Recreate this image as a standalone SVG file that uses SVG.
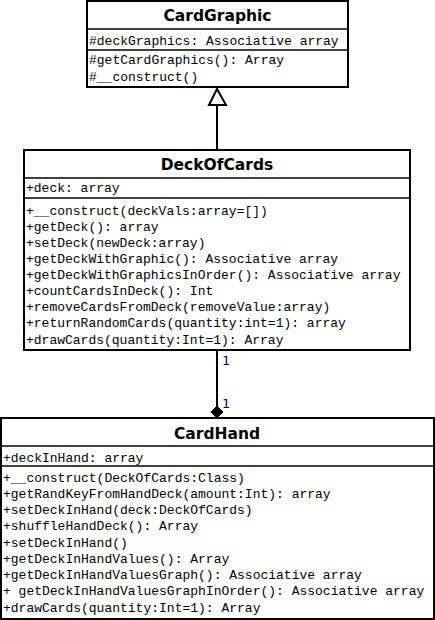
<svg xmlns="http://www.w3.org/2000/svg" width="435" height="620" viewBox="0 0 435 620">
<style>
.box{fill:#fff;stroke:#000;stroke-width:2}
.div{stroke:#000;stroke-width:1.5}
.title{font-family:"DejaVu Sans",Verdana,sans-serif;font-weight:bold;font-size:15.5px;text-anchor:middle;fill:#000}
.mem{font-family:"Liberation Mono","Courier New",monospace;font-size:13px;fill:#000}
.mult{font-family:"DejaVu Sans",Tahoma,sans-serif;font-size:13px;fill:#000066}
.edge{stroke:#000;stroke-width:2;fill:none}
</style>
<rect width="435" height="620" fill="#fff"/>
<g id="connectors">
<line class="edge" x1="217" y1="104" x2="217" y2="150"/>
<polygon points="217,89 209,105 226,105" fill="#fff" stroke="#000" stroke-width="2"/>
<line class="edge" x1="217" y1="350" x2="217" y2="408"/>
<polygon points="217,406 223,412 217,418 211,412" fill="#000" stroke="#000" stroke-width="1"/>
<text class="mult" x="222" y="365">1</text>
<text class="mult" x="222" y="408">1</text>
</g>
<g id="CardGraphic">
<rect class="box" x="87" y="1" width="261" height="86"/>
<line class="div" x1="87" y1="29" x2="348" y2="29"/>
<line class="div" x1="87" y1="50" x2="348" y2="50"/>
<text class="title" x="217.5" y="21">CardGraphic</text>
<text class="mem" x="89" y="45">#deckGraphics: Associative array</text>
<text class="mem" x="89" y="64">#getCardGraphics(): Array</text>
<text class="mem" x="89" y="81">#__construct()</text>
</g>
<g id="DeckOfCards">
<rect class="box" x="24" y="150" width="386" height="200"/>
<line class="div" x1="24" y1="178" x2="410" y2="178"/>
<line class="div" x1="24" y1="198" x2="410" y2="198"/>
<text class="title" x="217" y="170">DeckOfCards</text>
<text class="mem" x="26" y="192">+deck: array</text>
<text class="mem" x="26" y="215">+__construct(deckVals:array=[])</text>
<text class="mem" x="26" y="231">+getDeck(): array</text>
<text class="mem" x="26" y="247">+setDeck(newDeck:array)</text>
<text class="mem" x="26" y="263">+getDeckWithGraphic(): Associative array</text>
<text class="mem" x="26" y="279">+getDeckWithGraphicsInOrder(): Associative array</text>
<text class="mem" x="26" y="295">+countCardsInDeck(): Int</text>
<text class="mem" x="26" y="311">+removeCardsFromDeck(removeValue:array)</text>
<text class="mem" x="26" y="327">+returnRandomCards(quantity:int=1): array</text>
<text class="mem" x="26" y="344">+drawCards(quantity:Int=1): Array</text>
</g>
<g id="CardHand">
<rect class="box" x="1" y="418" width="433" height="201"/>
<line class="div" x1="1" y1="446" x2="434" y2="446"/>
<line class="div" x1="1" y1="466" x2="434" y2="466"/>
<text class="title" x="217" y="439">CardHand</text>
<text class="mem" x="3" y="462">+deckInHand: array</text>
<text class="mem" x="3" y="482">+__construct(DeckOfCards:Class)</text>
<text class="mem" x="3" y="498">+getRandKeyFromHandDeck(amount:Int): array</text>
<text class="mem" x="3" y="514">+setDeckInHand(deck:DeckOfCards)</text>
<text class="mem" x="3" y="530">+shuffleHandDeck(): Array</text>
<text class="mem" x="3" y="547">+setDeckInHand()</text>
<text class="mem" x="3" y="563">+getDeckInHandValues(): Array</text>
<text class="mem" x="3" y="579">+getDeckInHandValuesGraph(): Associative array</text>
<text class="mem" x="3" y="595">+ getDeckInHandValuesGraphInOrder(): Associative array</text>
<text class="mem" x="3" y="612">+drawCards(quantity:Int=1): Array</text>
</g>
</svg>
